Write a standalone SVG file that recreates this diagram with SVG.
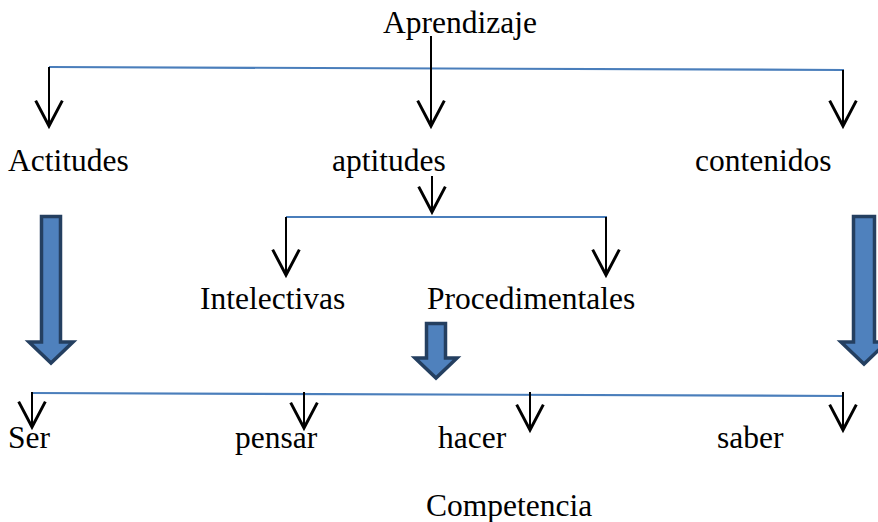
<svg xmlns="http://www.w3.org/2000/svg" width="878" height="522" viewBox="0 0 878 522">
<style>
text{font-family:"Liberation Serif","Times New Roman",serif;font-size:31.5px;fill:#000}
.bl{stroke:#4A7EBB;stroke-width:2.2;fill:none}
.ar{stroke:#000;stroke-width:2;fill:none;marker-end:url(#v)}
.blk{fill:#4F81BD;stroke:#243F60;stroke-width:3.5;stroke-linejoin:miter}
</style>
<defs>
<marker id="v" markerUnits="userSpaceOnUse" markerWidth="40" markerHeight="40" refX="0" refY="0" orient="auto" viewBox="-25 -15 30 30" overflow="visible">
<path d="M-19,-10 L0,0 L-19,10" fill="none" stroke="#000" stroke-width="2.2"/>
</marker>
</defs>
<g id="connectors">
<path class="bl" d="M49,67 L844,70"/>
<path class="ar" d="M431,36 L431,126"/>
<path class="ar" d="M49,67 L49,126"/>
<path class="ar" d="M843,70 L843,126"/>
<path class="ar" d="M432,176 L432,212"/>
<path class="bl" d="M286,217 L607,217"/>
<path class="ar" d="M286,217 L286,275"/>
<path class="ar" d="M606,217 L606,275"/>
<path class="bl" d="M31,393 L843,396"/>
<path class="ar" d="M32,392 L32,427"/>
<path class="ar" d="M304,392 L304,428"/>
<path class="ar" d="M530,392 L530,430"/>
<path class="ar" d="M843,392 L843,430"/>
<path class="blk" d="M41.5,216.5 L60.5,216.5 L60.5,342 L73,342 L51,363 L29,342 L41.5,342 Z"/>
<path class="blk" d="M426.5,323.5 L445.5,323.5 L445.5,358 L457,358 L436,378 L415,358 L426.5,358 Z"/>
<path class="blk" d="M853.5,216.5 L874.5,216.5 L874.5,342 L887,342 L864,364 L841,342 L853.5,342 Z"/>
</g>
<g id="aprendizaje"><text x="383" y="33">Aprendizaje</text></g>
<g id="actitudes"><text x="8" y="171">Actitudes</text></g>
<g id="aptitudes"><text x="332" y="171">aptitudes</text></g>
<g id="contenidos"><text x="695" y="171">contenidos</text></g>
<g id="intelectivas"><text x="200" y="309">Intelectivas</text></g>
<g id="procedimentales"><text x="427" y="309">Procedimentales</text></g>
<g id="ser"><text x="8" y="448">Ser</text></g>
<g id="pensar"><text x="235" y="448">pensar</text></g>
<g id="hacer"><text x="438" y="448">hacer</text></g>
<g id="saber"><text x="717" y="448">saber</text></g>
<g id="competencia"><text x="426" y="516">Competencia</text></g>
</svg>
